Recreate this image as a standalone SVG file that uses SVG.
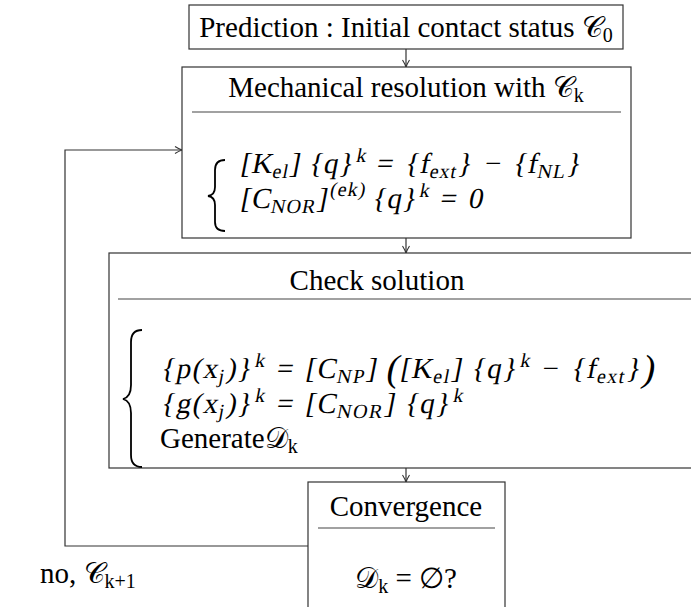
<svg xmlns="http://www.w3.org/2000/svg" width="691" height="607" viewBox="0 0 691 607">
<style>
.box{fill:#fff;stroke:#333;stroke-width:1.2}
.sep{stroke:#444;stroke-width:1.2}
.con{fill:none;stroke:#333;stroke-width:1.2}
.t{font-family:"Liberation Serif","DejaVu Serif",serif;font-size:29px;fill:#000}
.m{font-family:"Liberation Serif","DejaVu Serif",serif;font-size:29px;fill:#000;letter-spacing:1.5px}
.m2{letter-spacing:1px}
.s{font-size:20px}
.br{fill:none;stroke:#000;stroke-width:1.8}
</style>
<defs>
<marker id="arr" viewBox="0 0 10 10" refX="9" refY="5" markerWidth="10" markerHeight="10" markerUnits="userSpaceOnUse" orient="auto">
<path d="M2,1.5 Q6,4 9,5 Q6,6 2,8.5" fill="none" stroke="#333" stroke-width="1.1"/>
</marker>
</defs>
<g id="connectors">
<path class="con" d="M406,49 V67" marker-end="url(#arr)"/>
<path class="con" d="M406,238 V253" marker-end="url(#arr)"/>
<path class="con" d="M406,468 V482" marker-end="url(#arr)"/>
<path class="con" d="M308,546 H65 V150 H182" marker-end="url(#arr)"/>
<text class="t" x="40" y="583">no, 𝒞<tspan class="s" dy="5">k+1</tspan></text>
</g>
<g id="prediction">
<rect class="box" x="189" y="5" width="434" height="44"/>
<text class="t" x="406" y="37" text-anchor="middle">Prediction : Initial contact status 𝒞<tspan class="s" dy="5">0</tspan></text>
</g>
<g id="mechanical">
<rect class="box" x="182" y="67" width="449" height="171"/>
<text class="t" x="406" y="97" text-anchor="middle">Mechanical resolution with 𝒞<tspan class="s" dy="5">k</tspan></text>
<line class="sep" x1="192" y1="112" x2="621" y2="112"/>
<path class="br" d="M225,160 Q215,160 215,170 V187 Q215,195 208,196 Q215,197 215,205 V222 Q215,231 225,231"/>
<text class="m m2" transform="translate(240,173) skewX(-11)" x="0" y="0">[K<tspan class="s" dy="5">el</tspan><tspan dy="-5">] {q}</tspan><tspan class="s" dy="-11">k</tspan><tspan dy="11" dx="3"> = </tspan><tspan dx="3">{f</tspan><tspan class="s" dy="5">ext</tspan><tspan dy="-5">}</tspan><tspan dx="3"> − </tspan><tspan dx="3">{f</tspan><tspan class="s" dy="5">NL</tspan><tspan dy="-5">}</tspan></text>
<text class="m m2" transform="translate(240,208) skewX(-11)" x="0" y="0">[C<tspan class="s" dy="5">NOR</tspan><tspan dy="-5">]</tspan><tspan class="s" dy="-12">(ek)</tspan><tspan dy="12"> {q}</tspan><tspan class="s" dy="-11">k</tspan><tspan dy="11" dx="3"> = </tspan><tspan dx="3">0</tspan></text>
</g>
<g id="check">
<rect class="box" x="109" y="253" width="594" height="215"/>
<text class="t" x="377" y="290" text-anchor="middle">Check solution</text>
<line class="sep" x1="118" y1="299" x2="691" y2="299"/>
<path class="br" d="M142,330 Q131,330 131,342 V385 Q131,397 123,399 Q131,401 131,413 V455 Q131,467 142,467"/>
<text class="m" transform="translate(160,378) skewX(-11)" x="0" y="0">{p(x<tspan class="s" dy="5">j</tspan><tspan dy="-5">)}</tspan><tspan class="s" dy="-11">k</tspan><tspan dy="11" dx="3"> = </tspan><tspan dx="3">[C</tspan><tspan class="s" dy="5">NP</tspan><tspan dy="-5">] </tspan><tspan font-size="38" dy="3">(</tspan><tspan dy="-3">[K</tspan><tspan class="s" dy="5">el</tspan><tspan dy="-5">] {q}</tspan><tspan class="s" dy="-11">k</tspan><tspan dy="11" dx="3"> − </tspan><tspan dx="3">{f</tspan><tspan class="s" dy="5">ext</tspan><tspan dy="-5">}</tspan><tspan font-size="38" dy="3">)</tspan></text>
<text class="m" transform="translate(160,413) skewX(-11)" x="0" y="0">{g(x<tspan class="s" dy="5">j</tspan><tspan dy="-5">)}</tspan><tspan class="s" dy="-11">k</tspan><tspan dy="11" dx="3"> = </tspan><tspan dx="3">[C</tspan><tspan class="s" dy="5">NOR</tspan><tspan dy="-5">] {q}</tspan><tspan class="s" dy="-11">k</tspan></text>
<text class="t" x="160" y="448">Generate𝒟<tspan class="s" dy="5">k</tspan></text>
</g>
<g id="convergence">
<rect class="box" x="308" y="482" width="197" height="140"/>
<text class="t" x="406" y="516" text-anchor="middle">Convergence</text>
<line class="sep" x1="318" y1="528" x2="495" y2="528"/>
<text class="t" x="406" y="588" text-anchor="middle">𝒟<tspan class="s" dy="5">k</tspan><tspan dy="-5"> = ∅?</tspan></text>
</g>
</svg>
